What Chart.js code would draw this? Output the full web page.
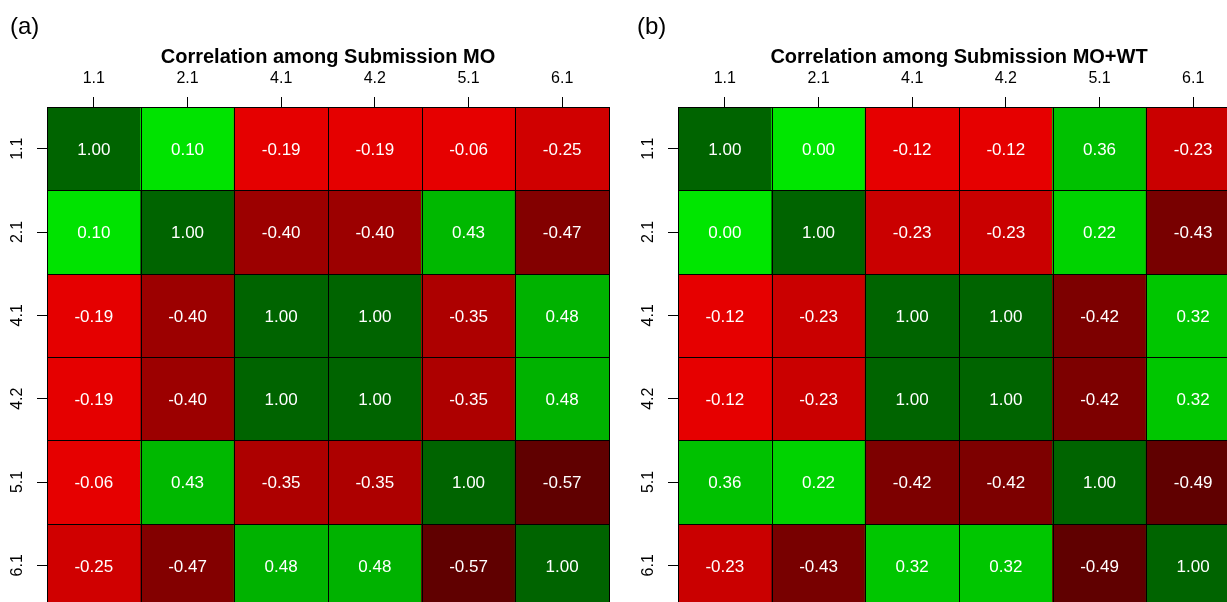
<!DOCTYPE html>
<html>
<head>
<meta charset="utf-8">
<script src="https://cdn.jsdelivr.net/npm/chart.js@4.4.0/dist/chart.umd.min.js"></script>
<style>
  html, body { margin: 0; padding: 0; background: #fff; overflow: hidden; width: 1227px; height: 602px; }
  canvas { position: absolute; top: 0; }
  #panelA { left: 0; }
  #panelB { left: 631px; }
</style>
</head>
<body>
<canvas id="panelA" width="630" height="620"></canvas>
<canvas id="panelB" width="630" height="620"></canvas>
<script>
const rowLabels = ['1.1', '2.1', '4.1', '4.2', '5.1', '6.1'];
const colLabels = ['1.1', '2.1', '4.1', '4.2', '5.1', '6.1'];

const corrMO = [
    [ 1.00,  0.10, -0.19, -0.19, -0.06, -0.25],
    [ 0.10,  1.00, -0.40, -0.40,  0.43, -0.47],
    [-0.19, -0.40,  1.00,  1.00, -0.35,  0.48],
    [-0.19, -0.40,  1.00,  1.00, -0.35,  0.48],
    [-0.06,  0.43, -0.35, -0.35,  1.00, -0.57],
    [-0.25, -0.47,  0.48,  0.48, -0.57,  1.00]
];

const corrMOWT = [
    [ 1.00,  0.00, -0.12, -0.12,  0.36, -0.23],
    [ 0.00,  1.00, -0.23, -0.23,  0.22, -0.43],
    [-0.12, -0.23,  1.00,  1.00, -0.42,  0.32],
    [-0.12, -0.23,  1.00,  1.00, -0.42,  0.32],
    [ 0.36,  0.22, -0.42, -0.42,  1.00, -0.49],
    [-0.23, -0.43,  0.32,  0.32, -0.49,  1.00]
];

const FONT = '"Liberation Sans", Arial, Helvetica, sans-serif';
Chart.defaults.font.family = FONT;

// green for positive, red for negative (red scaled to the panel's lowest value)
function cellColour(v, lowest) {
    if (v >= 0.995) return 'rgb(0,100,0)';
    if (v >= 0) {
        const g = Math.round(Math.min(230, 240 - 130 * v));
        return `rgb(0,${g},0)`;
    }
    const t = v / lowest;
    const r = Math.round(Math.min(230, 230 - (t - 0.33) * 200));
    return `rgb(${r},0,0)`;
}

const panelText = {
    id: 'panelText',
    afterDatasetsDraw(chart, args, opts) {
        const ctx = chart.ctx;
        const xs = chart.scales.x, ys = chart.scales.y;
        const area = chart.chartArea;
        ctx.save();

        // cell borders, at the scale boundaries
        const half = (xs.getPixelForValue(1) - xs.getPixelForValue(0)) / 2;
        ctx.strokeStyle = '#000';
        ctx.lineWidth = 1;
        ctx.beginPath();
        for (let j = 0; j <= colLabels.length; j++) {
            const px = Math.round(xs.getPixelForValue(0) - half + j * 2 * half) + 0.5;
            ctx.moveTo(px, area.top);
            ctx.lineTo(px, area.bottom);
        }
        for (let i = 0; i <= rowLabels.length; i++) {
            const py = Math.round(ys.getPixelForValue(i + 0.5)) + 0.5;
            ctx.moveTo(area.left, py);
            ctx.lineTo(area.right + 1, py);
        }
        ctx.stroke();

        // values in cells
        ctx.fillStyle = '#fff';
        ctx.font = '17px ' + FONT;
        ctx.textAlign = 'center';
        ctx.textBaseline = 'middle';
        opts.matrix.forEach((row, i) => {
            row.forEach((v, j) => {
                ctx.fillText(v.toFixed(2), xs.getPixelForValue(j), ys.getPixelForValue(i + 1) + 1.5);
            });
        });

        // rotated row labels
        ctx.fillStyle = '#000';
        ctx.font = '16px ' + FONT;
        rowLabels.forEach((lab, i) => {
            ctx.save();
            ctx.translate(18, ys.getPixelForValue(i + 1));
            ctx.rotate(-Math.PI / 2);
            ctx.fillText(lab, 0, 0);
            ctx.restore();
        });

        // title
        ctx.font = 'bold 20px ' + FONT;
        ctx.textBaseline = 'alphabetic';
        ctx.fillText(opts.title, (area.left + area.right) / 2, 63);

        // panel tag
        ctx.font = '24px ' + FONT;
        ctx.textAlign = 'left';
        ctx.fillText(opts.tag, opts.tagX, 34);
        ctx.restore();
    }
};

function drawPanel(id, matrix, title, tag, tagX) {
    const lowest = Math.min(...matrix.flat());
    new Chart(document.getElementById(id), {
        type: 'bar',
        data: {
            labels: colLabels,
            datasets: matrix.map((row, i) => ({
                data: colLabels.map(() => [i + 0.5, i + 1.5]),
                backgroundColor: row.map(v => cellColour(v, lowest)),
                borderWidth: 0,
                inflateAmount: 0.5,
                barPercentage: 1,
                categoryPercentage: 1,
                grouped: false
            }))
        },
        options: {
            responsive: false,
            animation: false,
            layout: { padding: { top: 0, left: 0, right: 21, bottom: 13 } },
            plugins: {
                legend: { display: false },
                tooltip: { enabled: false },
                panelText: { matrix: matrix, title: title, tag: tag, tagX: tagX }
            },
            scales: {
                x: {
                    type: 'category',
                    position: 'top',
                    offset: true,
                    grid: { offset: false, drawOnChartArea: false, tickLength: 10, color: '#000' },
                    border: { display: false },
                    ticks: { color: '#000', font: { size: 16 }, padding: 9, maxRotation: 0, autoSkip: false },
                    afterFit: s => { s.height = 107; }
                },
                y: {
                    type: 'linear',
                    min: 0.5,
                    max: 6.5,
                    reverse: true,
                    afterBuildTicks: s => { s.ticks = rowLabels.map((_, i) => ({ value: i + 1 })); },
                    grid: { drawOnChartArea: false, tickLength: 10, color: '#000' },
                    border: { display: false },
                    ticks: { display: false },
                    afterFit: s => { s.width = 47; }
                }
            }
        },
        plugins: [panelText]
    });
}

drawPanel('panelA', corrMO, 'Correlation among Submission MO', '(a)', 10);
drawPanel('panelB', corrMOWT, 'Correlation among Submission MO+WT', '(b)', 6);
</script>
</body>
</html>
